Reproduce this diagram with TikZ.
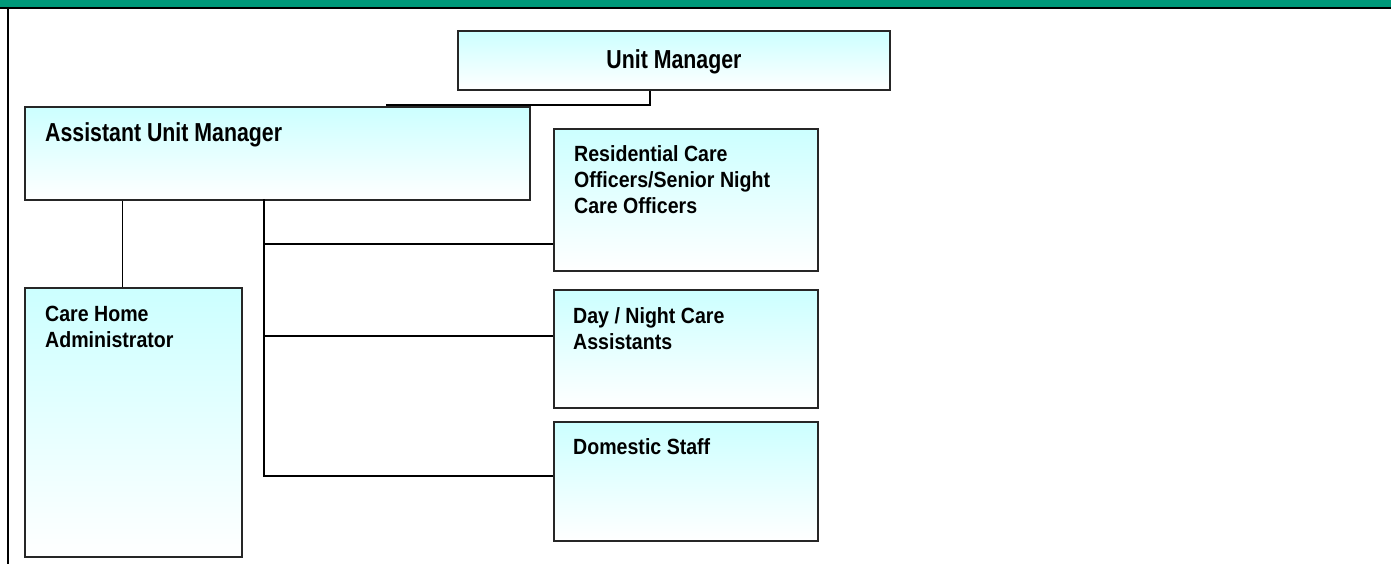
\documentclass[tikz,border=0pt]{standalone}
\usepackage{fontspec}
\setmainfont{Liberation Sans}
\newfontfamily\postfont[FakeStretch=0.89]{Liberation Sans}
\newfontfamily\headfont[FakeStretch=0.82]{Liberation Sans}
\definecolor{bannergreen}{RGB}{0,153,122}
\definecolor{posttop}{RGB}{204,255,255}
\tikzset{
  post/.style={draw=black!85,line width=2pt,top color=posttop,bottom color=white,
    anchor=north west,inner sep=0pt},
  postlabel/.style={anchor=base west,inner sep=0pt,align=left,
    font=\postfont\bfseries\fontsize{22}{26}\selectfont},
  headlabel/.style={inner sep=0pt,font=\headfont\bfseries\fontsize{26}{30}\selectfont},
  link/.style={line width=1.4pt}
}
\begin{document}
\begin{tikzpicture}[x=1pt,y=-1pt]
  \useasboundingbox (0,0) rectangle (1391,564);
  %% banner and frame
  \fill[bannergreen] (0,0) rectangle (1391,7);
  \draw[line width=2pt] (0,8) -- (1391,8);
  \draw[line width=1.7pt] (8,8) -- (8,564);
  %% posts
  \foreach \n/\x/\y/\w/\h in {um/457/30/432/59,aum/24/106/505/93,chm/24/287/217/269,
      rco/553/128/264/142,dna/553/289/264/118,dom/553/421/264/119}
    \node[post,minimum width=\w pt,minimum height=\h pt] (\n) at (\x,\y) {};
  %% titles (base is the last line)
  \node[headlabel] (um-t) at ([yshift=-1pt]um.center) {Unit Manager};
  \node[headlabel,anchor=base west] (aum-t) at (45,142) {Assistant Unit Manager};
  \foreach \n/\x/\y/\t in {chm/45/347/{Care Home\\Administrator},
      rco/574/214/{Residential Care\\Officers/Senior Night\\Care Officers},
      dna/573/349/{Day / Night Care\\Assistants},dom/573/454/{Domestic Staff}}
    \node[postlabel] (\n-t) at (\x,\y) {\t};
  %% links
  \coordinate (umj) at (386,105);
  \coordinate (trunk) at (264,199);
  \coordinate (trunkend) at (264,477);
  \draw[link] ([xshift=-24pt]um.south) |- (umj);
  \draw[link] ([xshift=-11pt]chm.north) -- ([xshift=-11pt]chm.north |- aum.south);
  \draw[link] (trunk) -- (trunkend);
  \foreach \n/\y in {rco/244,dna/336,dom/476}
    \draw[link] (trunk |- 0,\y) -- (\n.west |- 0,\y);
\end{tikzpicture}
\end{document}
